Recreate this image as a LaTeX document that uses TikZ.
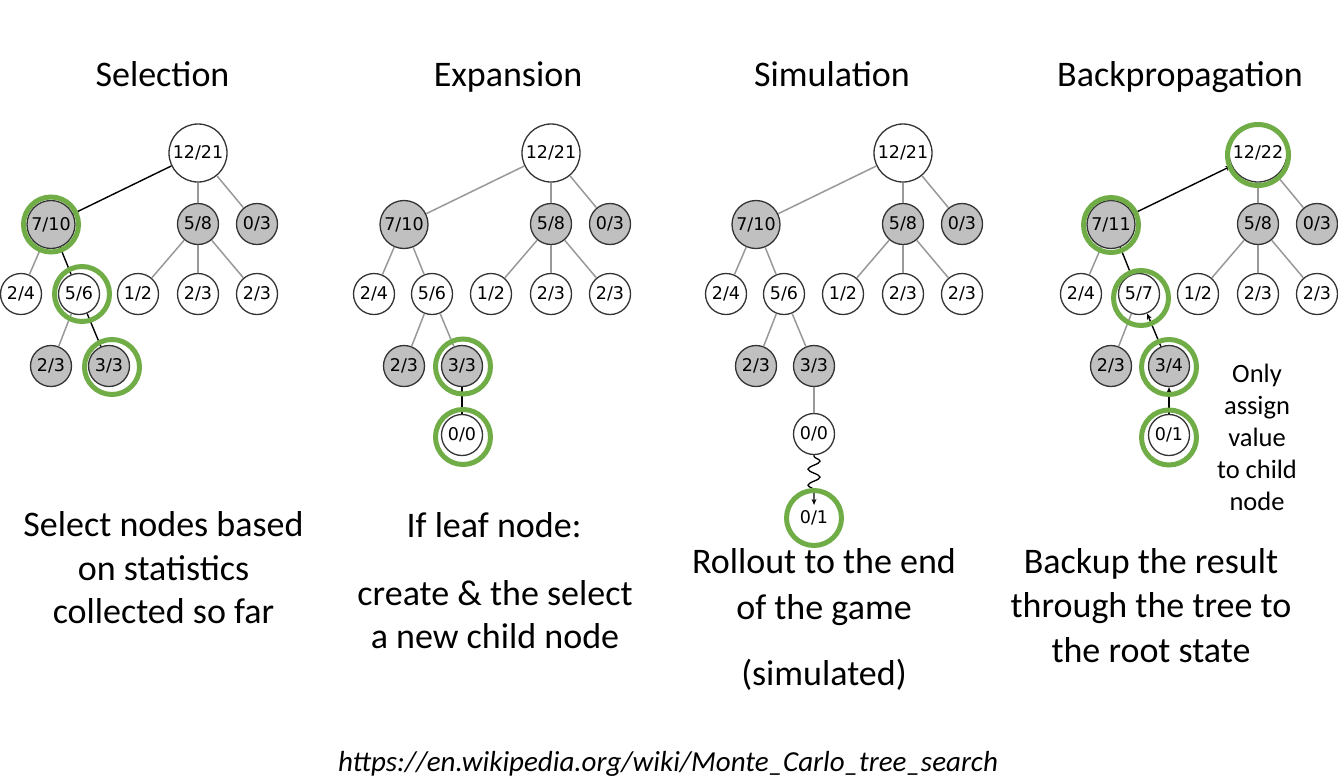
\documentclass[tikz,border=0pt]{standalone}
\usepackage{fontspec}
\setmainfont{Carlito}
\newfontfamily\nodefont{DejaVu Sans}
\usetikzlibrary{arrows.meta,decorations.pathmorphing}
\definecolor{ringgreen}{HTML}{70AD47}
\definecolor{nodegray}{HTML}{C0C0C0}
\definecolor{edgegray}{HTML}{999999}
\definecolor{borderc}{HTML}{333333}

\newcommand\mctsnodes[5]{%
  \node[tn,bign] (#1r) at (0,153) {#2};
  \node[gn,midn] (#1a) at (-147,224.5) {#3};
  \node[gn] (#1b) at (0,224) {5/8};
  \node[gn] (#1c) at (59,224) {0/3};
  \node[tn] (#1a1) at (-177,294) {2/4};
  \node[tn] (#1a2) at (-119,294) {#4};
  \node[tn] (#1b1) at (-60,294) {1/2};
  \node[tn] (#1b2) at (0,294) {2/3};
  \node[tn] (#1b3) at (59,294) {2/3};
  \node[gn] (#1aa) at (-147,366) {2/3};
  \node[gn] (#1ab) at (-89,366) {#5};
  \draw[ge] (#1r) -- (#1b);
  \draw[ge] (#1r) -- (#1c);
  \draw[ge] (#1a) -- (#1a1);
  \draw[ge] (#1b) -- (#1b1);
  \draw[ge] (#1b) -- (#1b2);
  \draw[ge] (#1b) -- (#1b3);
  \draw[ge] (#1a2) -- (#1aa);
}

\begin{document}
\begin{tikzpicture}[x=1pt,y=-1pt,
  tn/.style={circle,draw=borderc,line width=1.3pt,fill=white,inner sep=0pt,
    minimum size=41pt,font=\nodefont\fontsize{17.5}{18}\selectfont},
  gn/.style={tn,fill=nodegray},
  bign/.style={minimum size=58pt},
  midn/.style={minimum size=48pt},
  ge/.style={draw=edgegray,line width=1.5pt},
  be/.style={draw=black,line width=1.4pt},
  ringc/.style={circle,draw=ringgreen,line width=5pt,inner sep=0pt,minimum size=55pt},
  bigringc/.style={ringc,minimum size=61pt},
  arrowtip/.style={-{Stealth[length=6pt,width=5pt]}},
  ttl/.style={font=\fontsize{36}{40}\selectfont,anchor=base,inner sep=0pt},
  bodytxt/.style={font=\fontsize{36}{40}\selectfont,anchor=base,inner sep=0pt},
  notetxt/.style={font=\fontsize{26.5}{30}\selectfont,anchor=base,inner sep=0pt},
]
\useasboundingbox[fill=white] (0,0) rectangle (1338,782);

% ---------- Tree 1: Selection ----------
\begin{scope}[xshift=198pt]
  \mctsnodes{t1}{12/21}{7/10}{5/6}{3/3}
  \draw[be] (t1r) -- (t1a);
  \draw[be] (t1a) -- (t1a2);
  \draw[be] (t1a2) -- (t1ab);
  \node[ringc] (t1ra) at (-147,224.5) {};
  \node[ringc] (t1ra2) at (-116,294) {};
  \node[ringc] (t1rab) at (-86,367) {};
\end{scope}

% ---------- Tree 2: Expansion ----------
\begin{scope}[xshift=551pt]
  \mctsnodes{t2}{12/21}{7/10}{5/6}{3/3}
  \node[tn] (t2l4) at (-89,435) {0/0};
  \draw[ge] (t2r) -- (t2a);
  \draw[ge] (t2a) -- (t2a2);
  \draw[ge] (t2a2) -- (t2ab);
  \draw[be] (t2ab) -- (t2l4);
  \node[ringc] (t2rab) at (-88,366.5) {};
  \node[ringc] (t2rl4) at (-88,437) {};
\end{scope}

% ---------- Tree 3: Simulation ----------
\begin{scope}[xshift=903pt]
  \mctsnodes{t3}{12/21}{7/10}{5/6}{3/3}
  \node[tn] (t3l4) at (-89,434) {0/0};
  \node[tn,draw=none,fill=none] (t3l5) at (-89,518) {0/1};
  \draw[ge] (t3r) -- (t3a);
  \draw[ge] (t3a) -- (t3a2);
  \draw[ge] (t3a2) -- (t3ab);
  \draw[ge] (t3ab) -- (t3l4);
  \draw[line width=1.3pt,arrowtip,decorate,
    decoration={snake,amplitude=6pt,segment length=16pt,pre length=1pt,post length=7pt}]
    (t3l4.south) -- ([yshift=-8pt]t3l5.north);
  \node[ringc] (t3rl5) at (-89,518) {};
\end{scope}

% ---------- Tree 4: Backpropagation ----------
\begin{scope}[xshift=1258pt]
  \mctsnodes{t4}{12/22}{7/11}{5/7}{3/4}
  \node[tn] (t4l4) at (-89,435) {0/1};
  \draw[be,arrowtip] (t4a) -- (t4r);
  \draw[be] (t4a2) -- (t4a);
  \draw[be,arrowtip] (t4ab) -- (t4a2);
  \draw[be,arrowtip] (t4l4) -- (t4ab);
  \node[bigringc] (t4rr) at (0,155) {};
  \node[ringc] (t4ra) at (-147,225) {};
  \node[ringc] (t4ra2) at (-117,298) {};
  \node[ringc] (t4rab) at (-89,367) {};
  \node[ringc] (t4rl4) at (-89,437.5) {};
\end{scope}

% ---------- Titles ----------
\node[ttl] (h1) at (162.5,86.7) {Selection};
\node[ttl] (h2) at (508,86.7) {Expansion};
\node[ttl] (h3) at (832,86.7) {Simulation};
\node[ttl] (h4) at (1180,86.7) {Backpropagation};

% ---------- Descriptions ----------
\node[bodytxt] (d1a) at (163.5,536) {Select nodes based};
\node[bodytxt] (d1b) at (163.5,580) {on statistics};
\node[bodytxt] (d1c) at (163.5,623) {collected so far};

\node[bodytxt] (d2a) at (494,537) {If leaf node:};
\node[bodytxt] (d2b) at (495,605) {create \& the select};
\node[bodytxt] (d2c) at (495,648) {a new child node};

\node[bodytxt] (d3a) at (824,573) {Rollout to the end};
\node[bodytxt] (d3b) at (824,619) {of the game};
\node[bodytxt] (d3c) at (824,685) {(simulated)};

\node[bodytxt] (d4a) at (1151,573) {Backup the result};
\node[bodytxt] (d4b) at (1151,617) {through the tree to};
\node[bodytxt] (d4c) at (1151,662) {the root state};

\node[notetxt] (n1) at (1257,382) {Only};
\node[notetxt] (n2) at (1257,414) {assign};
\node[notetxt] (n3) at (1257,446) {value};
\node[notetxt] (n4) at (1257,478) {to child};
\node[notetxt] (n5) at (1257,510) {node};

% ---------- Footer ----------
\node[font=\itshape\fontsize{29}{32}\selectfont,anchor=base,inner sep=0pt] (src)
  at (668,771) {https://en.wikipedia.org/wiki/Monte\_Carlo\_tree\_search};
\end{tikzpicture}
\end{document}
